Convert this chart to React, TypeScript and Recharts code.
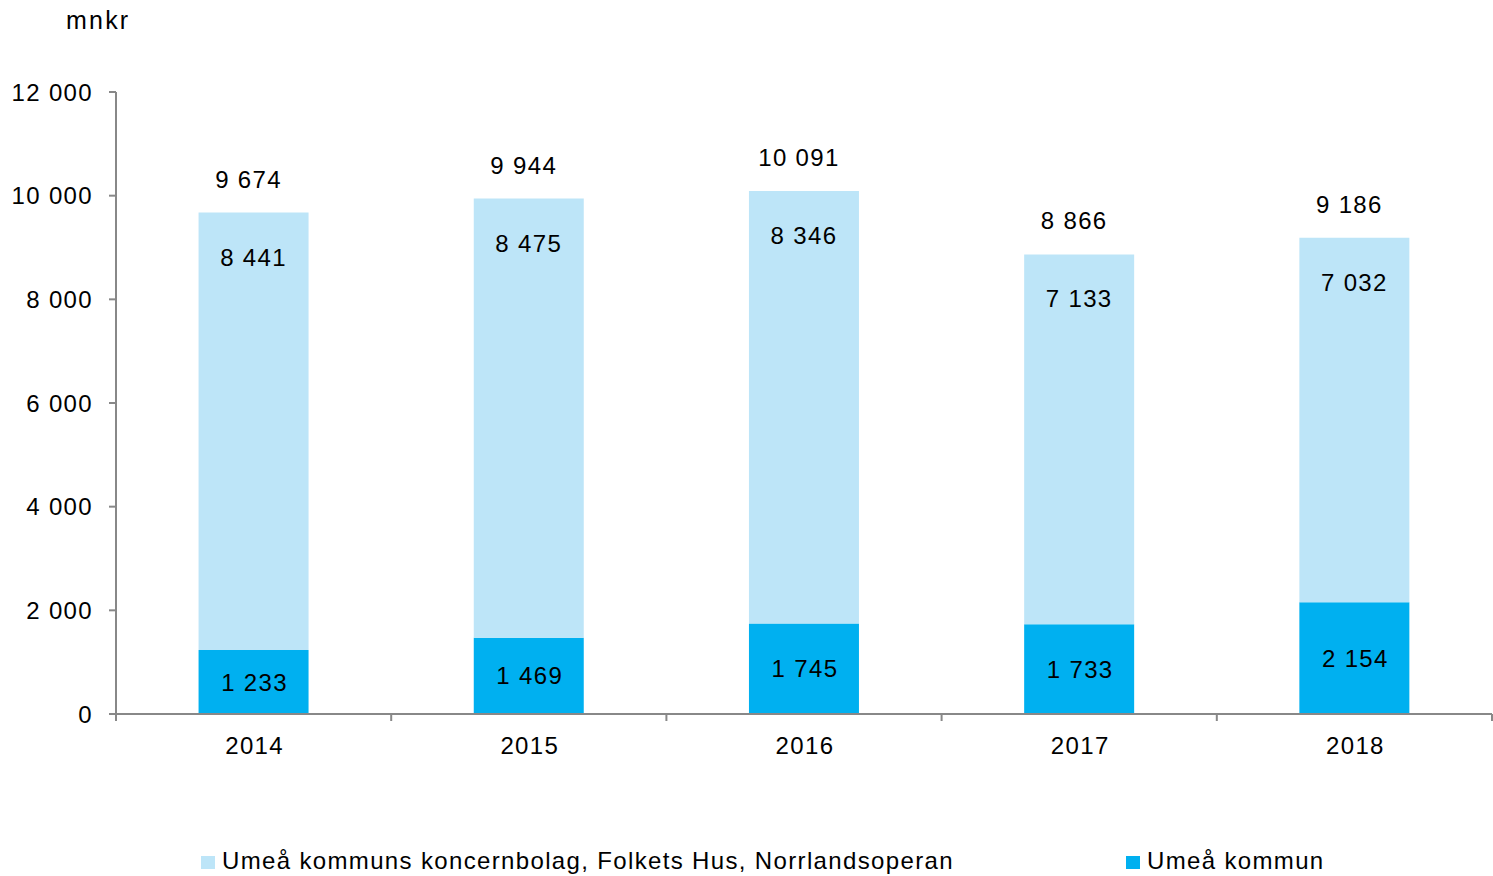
import React from 'react';
import { BarChart, Bar, XAxis, YAxis, Legend, LabelList } from 'recharts';

const years = ['2014', '2015', '2016', '2017', '2018'];
const kommun = [1233, 1469, 1745, 1733, 2154];
const koncern = [8441, 8475, 8346, 7133, 7032];
const totals = [9674, 9944, 10091, 8866, 9186];
const yTicks = [0, 2000, 4000, 6000, 8000, 10000, 12000];

const NAME_KONCERN = 'Umeå kommuns koncernbolag, Folkets Hus, Norrlandsoperan';
const NAME_KOMMUN = 'Umeå kommun';
const DARK = '#00B0F0';
const LIGHT = '#BDE5F8';
const AXIS = '#888';
const FONT = '"Liberation Sans", Arial, sans-serif';
const LS = 1.35;
const TICK_SIZE = 7;
const TICK_MARGIN = 16;

const data = years.map((y, i) => ({
  year: y,
  kommun: kommun[i],
  koncern: koncern[i],
  total: totals[i],
}));

const fmt = (v: any) => String(v).replace(/\B(?=(\d{3})+(?!\d))/g, ' ');

const LegendContent = () => (
  <div style={{ position: 'relative', width: 1493, height: 30, fontFamily: FONT, fontSize: 24, color: '#000', letterSpacing: `${LS}px` }}>
    {[
      { name: NAME_KONCERN, color: LIGHT, left: 201 },
      { name: NAME_KOMMUN, color: DARK, left: 1126 },
    ].map((it) => (
      <div key={it.name} style={{ position: 'absolute', left: it.left, top: 0, height: 30, display: 'flex', alignItems: 'center', whiteSpace: 'nowrap' }}>
        <span style={{ display: 'inline-block', width: 14, height: 13, background: it.color, marginRight: 7, marginTop: 3 }} />
        <span>{it.name}</span>
      </div>
    ))}
  </div>
);

const textStyle = { letterSpacing: `${LS}px` };

const YearTick = (props: any) => {
  const { x, y, payload, index } = props;
  const half = payload && payload.offset ? payload.offset : 0;
  const top = y - TICK_MARGIN - TICK_SIZE;
  const bottom = y - TICK_MARGIN;
  const last = index === years.length - 1;
  return (
    <g>
      <line x1={x - half} x2={x - half} y1={top} y2={bottom} stroke={AXIS} strokeWidth={2} />
      {last && <line x1={x + half} x2={x + half} y1={top} y2={bottom} stroke={AXIS} strokeWidth={2} />}
      <text x={x + 1} y={y} dy="0.71em" textAnchor="middle" fill="#000" fontSize={24} fontFamily={FONT} style={textStyle}>
        {payload.value}
      </text>
    </g>
  );
};

export default function App() {
  return (
    <div style={{ position: 'absolute', left: 0, top: 0, width: 1493, height: 876, background: '#fff' }}>
      <BarChart
        width={1493}
        height={876}
        data={data}
        margin={{ top: 92, right: 1, left: 0, bottom: 0 }}
        barCategoryGap="30%"
        style={{ fontFamily: FONT }}
      >
        <XAxis
          dataKey="year"
          height={132}
          tickSize={TICK_SIZE}
          tickMargin={TICK_MARGIN}
          axisLine={{ stroke: AXIS, strokeWidth: 2 }}
          tickLine={false}
          tick={<YearTick />}
          interval={0}
        />
        <YAxis
          width={116}
          domain={[0, 12000]}
          ticks={yTicks}
          tickSize={7}
          tickMargin={16}
          tickFormatter={fmt}
          axisLine={{ stroke: AXIS, strokeWidth: 2 }}
          tickLine={{ stroke: AXIS, strokeWidth: 2 }}
          tick={{ fill: '#000', fontSize: 24, style: textStyle }}
          label={() => (
            <text x={66} y={29} fontSize={25} fill="#000" fontFamily={FONT} style={{ letterSpacing: '2.2px' }}>
              mnkr
            </text>
          )}
        />
        <Legend verticalAlign="bottom" content={<LegendContent />} wrapperStyle={{ height: 30 }} />
        <Bar dataKey="kommun" name={NAME_KOMMUN} stackId="a" fill={DARK} isAnimationActive={false}>
          <LabelList dataKey="kommun" position="center" formatter={fmt} fill="#000" fontSize={24} style={textStyle} dx={1} />
        </Bar>
        <Bar dataKey="koncern" name={NAME_KONCERN} stackId="a" fill={LIGHT} isAnimationActive={false}>
          <LabelList dataKey="koncern" position="insideTop" offset={36} formatter={fmt} fill="#000" fontSize={24} style={textStyle} />
          <LabelList dataKey="total" position="top" offset={25} formatter={fmt} fill="#000" fontSize={24} dx={-5} style={textStyle} />
        </Bar>
      </BarChart>
    </div>
  );
}
